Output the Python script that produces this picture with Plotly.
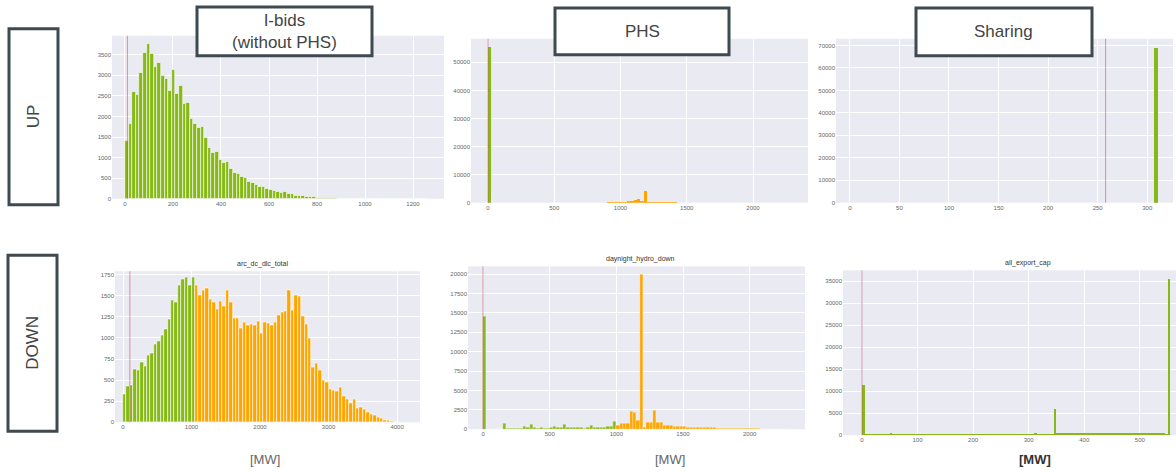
import plotly.graph_objects as go

W, H = 1176, 472

# ---------------- histogram data (counts per bin) ----------------
# I-bids, upward reserve
ibids_up_start, ibids_up_width = 0, 15
ibids_up_counts = [1410, 1820, 2590, 2530, 3060, 3540, 3770, 3530, 3200, 3310,
                   3000, 2920, 2620, 3130, 2560, 2740, 2310, 2330, 1940, 1830,
                   1730, 1760, 1480, 1250, 1120, 1130, 950, 870, 890, 720,
                   640, 600, 540, 510, 420, 380, 330, 300, 290, 250,
                   220, 200, 170, 150, 170, 120, 110, 80, 70, 60,
                   55, 45, 40, 35, 28, 22, 18, 15, 12, 10,
                   8, 7, 6, 5, 4, 4, 3, 3, 2, 2,
                   2, 1, 1, 1, 1, 1, 1, 1, 1, 0, 0, 1, 0, 1]

# PHS, upward reserve
phs_up_start, phs_up_width = 0, 25
phs_up_counts = [55600] + [0] * 35 + [80, 100, 120, 150, 200, 250, 400, 700,
                                      1000, 1300, 350, 4400, 300, 250, 200,
                                      180, 150, 120, 100, 80, 50]

# Sharing, upward reserve
sharing_up_start, sharing_up_width = 307, 4
sharing_up_counts = [69000]

# I-bids, downward reserve (arc_dc_dlc_total)
ibids_dn_start, ibids_dn_width = 0, 50
ibids_dn_counts = [334, 432, 444, 629, 621, 716, 668, 798, 818, 920,
                   955, 1034, 1101, 1223, 1443, 1427, 1624, 1700, 1720, 1625,
                   1720, 1620, 1500, 1570, 1590, 1460, 1420, 1340, 1430, 1380,
                   1560, 1420, 1230, 1230, 1120, 1180, 1150, 1160, 1150, 1200,
                   1050, 1180, 1170, 1150, 1180, 1270, 1300, 1320, 1560, 1330,
                   1510, 1490, 1260, 1160, 1000, 650, 700, 620, 500, 480,
                   390, 380, 370, 420, 310, 270, 230, 270, 170, 180,
                   150, 120, 100, 80, 60, 45, 30, 20, 10, 5]

# PHS, downward reserve (daynight_hydro_down)
phs_dn_start, phs_dn_width = 0, 25
phs_dn_counts = [14600, 0, 0, 0, 0, 0, 780, 150, 120, 100,
                 80, 60, 420, 200, 620, 200, 120, 250, 100, 150,
                 200, 320, 250, 200, 650, 200, 300, 250, 220, 200,
                 180, 200, 550, 300, 280, 200, 300, 400, 350, 1070,
                 500, 750, 750, 800, 2350, 2200, 1200, 20000, 200, 900,
                 950, 2400, 950, 950, 550, 500, 450, 400, 400, 350,
                 330, 300, 280, 260, 240, 230, 220, 210, 200, 190,
                 180, 170, 160, 150, 140, 130, 120, 110, 100, 90,
                 80, 70, 60, 55, 50, 45, 40, 35, 30, 25, 15, 10]

# Sharing, downward reserve (all_export_cap)
sharing_dn_start, sharing_dn_width = 0, 5
sharing_dn_counts = [11300, 60, 40, 30, 50, 40, 30, 40, 50, 60,
                     250, 60, 40, 30, 40, 50, 30, 40, 60, 50,
                     200, 40, 30, 50, 40, 30, 40, 50, 60, 40,
                     150, 50, 40, 30, 40, 60, 40, 30, 50, 40,
                     200, 40, 50, 30, 40, 50, 30, 40, 60, 50,
                     100, 40, 30, 50, 40, 30, 40, 50, 60, 40,
                     200, 60, 400, 40, 30, 50, 40, 30, 40, 6000,
                     300, 320, 280, 300, 310, 290, 300, 280, 320, 300,
                     450, 300, 280, 290, 300, 270, 280, 290, 300, 280,
                     270, 280, 260, 270, 280, 260, 270, 260, 280, 270,
                     500, 300, 280, 270, 260, 250, 240, 230, 220, 200,
                     35400]

GREEN = "#86B817"
ORANGE = "#FFA500"

# one entry per panel: counts, bin layout, colour split, marker line, axes
panels = [
    dict(counts=ibids_up_counts, start=ibids_up_start, width=ibids_up_width,
         split=None, vline=10, dom_x=(112, 444), dom_y=(36, 200), edge=0.6,
         xr=(-54, 1329), yr=(0, 3960), xd=200, yd=500, title=None),
    dict(counts=phs_up_counts, start=phs_up_start, width=phs_up_width,
         split=500, vline=0, dom_x=(471, 808), dom_y=(39, 204), edge=0,
         xr=(-128, 2415), yr=(0, 58400), xd=500, yd=10000, title=None),
    dict(counts=sharing_up_counts, start=sharing_up_start, width=sharing_up_width,
         split=None, vline=258, dom_x=(836, 1173), dom_y=(39, 204), edge=0,
         xr=(-14, 326), yr=(0, 73000), xd=50, yd=10000, title=None),
    dict(counts=ibids_dn_counts, start=ibids_dn_start, width=ibids_dn_width,
         split=1050, vline=100, dom_x=(115, 420), dom_y=(273, 425), edge=0.6,
         xr=(-117, 4335), yr=(0, 1790), xd=1000, yd=250,
         title=("arc_dc_dlc_total", 262)),
    dict(counts=phs_dn_counts, start=phs_dn_start, width=phs_dn_width,
         split=1000, vline=0, dom_x=(468, 805), dom_y=(268, 432), edge=0.3,
         xr=(-113, 2415), yr=(0, 21000), xd=500, yd=2500,
         title=("daynight_hydro_down", 640)),
    dict(counts=sharing_dn_counts, start=sharing_dn_start, width=sharing_dn_width,
         split=None, vline=0, dom_x=(843, 1176), dom_y=(272, 438), edge=0,
         xr=(-34, 565), yr=(0, 37500), xd=100, yd=5000,
         title=("all_export_cap", 1028)),
]


def px(x):
    return x / W


def py(y):
    return 1 - y / H


fig = go.Figure()
layout = dict(
    width=W, height=H,
    margin=dict(l=0, r=0, t=0, b=0),
    paper_bgcolor="white",
    plot_bgcolor="#EAEAF2",
    showlegend=False,
    bargap=0,
    font=dict(family="Liberation Sans, Arial, sans-serif", color="#555"),
)

shapes = []
annotations = []

for i, p in enumerate(panels, start=1):
    xa = "x" if i == 1 else f"x{i}"
    ya = "y" if i == 1 else f"y{i}"
    n = len(p["counts"])
    centers = [p["start"] + p["width"] * (k + 0.5) for k in range(n)]
    if p["split"] is None:
        colors = [GREEN] * n
    else:
        colors = [GREEN if p["start"] + p["width"] * k < p["split"] else ORANGE
                  for k in range(n)]
    fig.add_trace(go.Bar(
        x=centers, y=p["counts"], width=[p["width"]] * n,
        marker=dict(color=colors, line=dict(color="white", width=p["edge"])),
        xaxis=xa, yaxis=ya, hoverinfo="skip",
    ))
    axis_common = dict(
        showline=False, zeroline=False, ticks="",
        gridcolor="white", gridwidth=1,
        tickfont=dict(size=6, color="#666"),
        tickformat="d", fixedrange=True,
    )
    layout["xaxis" if i == 1 else f"xaxis{i}"] = dict(
        axis_common, domain=[px(p["dom_x"][0]), px(p["dom_x"][1])],
        range=list(p["xr"]), dtick=p["xd"], tick0=0,
        anchor=ya,
    )
    layout["yaxis" if i == 1 else f"yaxis{i}"] = dict(
        axis_common, domain=[py(p["dom_y"][1]), py(p["dom_y"][0])],
        range=list(p["yr"]), dtick=p["yd"], tick0=0,
        anchor=xa,
    )
    # threshold marker
    shapes.append(dict(
        type="line", xref=xa, yref=f"{ya} domain",
        x0=p["vline"], x1=p["vline"], y0=0, y1=1,
        line=dict(color="rgba(205,80,110,0.6)", width=1), layer="above",
    ))
    if p["title"]:
        annotations.append(dict(
            text=p["title"][0], x=px(p["title"][1]), y=py(p["dom_y"][0] - 1),
            xref="paper", yref="paper", showarrow=False,
            font=dict(size=7, color="#333"), yanchor="bottom", xanchor="center",
        ))

# framed labels: column headers and row headers
boxes = [
    ((197, 7, 372, 56), "I-bids<br>(without PHS)", 0),
    ((555, 8, 729, 55), "PHS", 0),
    ((916, 8, 1092, 56), "Sharing", 0),
    ((9, 29, 58, 206), "UP", -90),
    ((8, 257, 57, 434), "DOWN", -90),
]
for (x0, y0, x1, y1), label, angle in boxes:
    shapes.append(dict(
        type="rect", xref="paper", yref="paper",
        x0=px(x0), x1=px(x1), y0=py(y1), y1=py(y0),
        fillcolor="white", line=dict(color="#3E4A50", width=3), layer="above",
    ))
    annotations.append(dict(
        text=label, x=px((x0 + x1) / 2), y=py((y0 + y1) / 2),
        xref="paper", yref="paper", showarrow=False, textangle=angle,
        font=dict(size=17, color="#444"), xanchor="center", yanchor="middle",
    ))

# unit labels below each column
for xc, txt, col in [(265, "[MW]", "#666"), (670, "[MW]", "#666"),
                     (1035, "<b>[MW]</b>", "#333")]:
    annotations.append(dict(
        text=txt, x=px(xc), y=py(462), xref="paper", yref="paper",
        showarrow=False, font=dict(size=13, color=col),
        xanchor="center", yanchor="middle",
    ))

layout["shapes"] = shapes
layout["annotations"] = annotations
fig.update_layout(**layout)
fig.write_html("out.html")
